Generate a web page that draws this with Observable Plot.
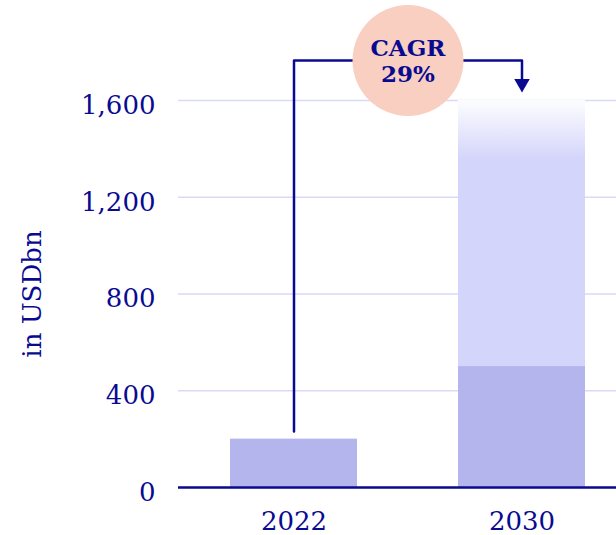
<!DOCTYPE html>
<html><head><meta charset="utf-8">
<script src="https://cdn.jsdelivr.net/npm/d3@7"></script>
<script src="https://cdn.jsdelivr.net/npm/@observablehq/plot@0.6"></script>
<style>body{margin:0;background:#fff}</style>
</head><body><div id="chart"></div>
<script>
// ---- data ----
const years = ["2022", "2030"];
const baseValues = [200, 500];      // solid part of each bar (USDbn)
const rangeTop = [200, 1600];       // upper end of the projected range
const yTicks = [0, 400, 800, 1200, 1600];
const yLabel = "in USDbn";
const cagrLabel = "CAGR\n29%";
// annotation levels (in USDbn units)
const bracketStart = 232;
const bracketLevel = 1765;
const arrowLevel = 1670;

const navy = "#0a0a91";
const barDark = "#b5b5ee";
const barLight = "#d4d5fa";

const bars = years.map((year, i) => ({year, base: baseValues[i], top: rangeTop[i]}));
const bracket = [
  {year: years[0], v: bracketStart},
  {year: years[0], v: bracketLevel},
  {year: years[1], v: bracketLevel},
  {year: years[1], v: arrowLevel}
];
const cagr = [{year: years[0], v: bracketLevel, label: cagrLabel}];
const arrow = [{year: years[1], v: arrowLevel}];

const defs = () => {
  const d = d3.create("svg:defs");
  const g = d.append("linearGradient").attr("id", "fade")
    .attr("x1", 0).attr("y1", 0).attr("x2", 0).attr("y2", 1);
  g.append("stop").attr("offset", "0%").attr("stop-color", "#fdfdff");
  g.append("stop").attr("offset", "22%").attr("stop-color", barLight);
  g.append("stop").attr("offset", "100%").attr("stop-color", barLight);
  return d.node();
};

const chart = Plot.plot({
  width: 616,
  height: 535,
  marginLeft: 178,
  marginRight: 0,
  marginTop: 100,
  marginBottom: 48,
  style: {fontFamily: "DejaVu Serif", color: navy, background: "#fff", overflow: "visible"},
  x: {domain: years, paddingInner: 0.444, paddingOuter: 0.18, align: 0.62, axis: null},
  y: {domain: [0, 1600], axis: null},
  marks: [
    Plot.gridY(yTicks, {stroke: "#d9d9f8", strokeOpacity: 1, strokeWidth: 1.3}),
    defs,
    Plot.barY(bars.filter(d => d.top > d.base), {x: "year", y1: "base", y2: "top", fill: "url(#fade)"}),
    Plot.barY(bars, {x: "year", y1: 0, y2: "base", fill: barDark}),
    Plot.ruleY([0], {stroke: navy, strokeWidth: 2.5}),
    Plot.axisY(yTicks, {tickSize: 0, tickPadding: 23, tickFormat: d3.format(","), fontSize: 26, dy: 5, label: null}),
    Plot.axisX({tickSize: 0, tickPadding: 24, fontSize: 26, label: null}),
    Plot.text([yLabel], {frameAnchor: "left", textAnchor: "middle", rotate: -90, dx: -146, fontSize: 26, fill: navy}),
    Plot.line(bracket, {x: "year", y: "v", stroke: navy, strokeWidth: 2.5}),
    Plot.dot(cagr, {x: "year", y: "v", dx: 114, r: 55.5, fill: "#f8cfc0"}),
    Plot.text(cagr, {x: "year", y: "v", text: "label", dx: 114, fontSize: 23, fontWeight: "bold", lineHeight: 1.12, fill: navy}),
    Plot.dot(arrow, {x: "year", y: "v", symbol: "triangle2", rotate: 180, r: 7.4, fill: navy, stroke: "none"})
  ]
});
document.getElementById("chart").append(chart);
</script>
</body></html>
